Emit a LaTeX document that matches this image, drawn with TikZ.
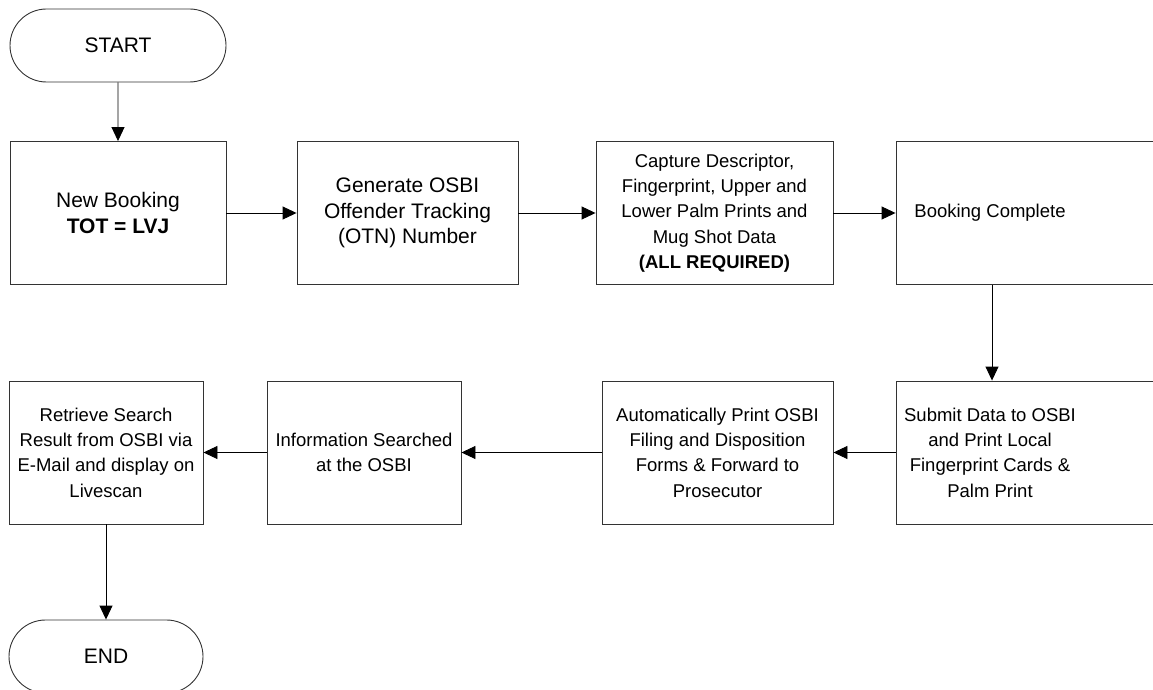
\documentclass[tikz,border=0pt]{standalone}
\usepackage{fontspec}
\setmainfont{Liberation Sans}
\usetikzlibrary{shapes.misc,arrows.meta}

\newcommand{\leftpart}[1]{\parbox{188pt}{\centering #1}\hspace{96pt}}

\begin{document}
\begin{tikzpicture}[x=1pt, y=-1pt, line width=0.9pt,
        >={Triangle[length=14pt, width=13pt]},
        bigtext/.style={font=\fontsize{21pt}{25.8pt}\selectfont},
        terminal/.style={rounded rectangle, draw=black!80, bigtext, minimum width=216pt, minimum height=73pt, inner sep=0pt},
        process/.style={rectangle, draw=black!80, minimum height=143pt, inner sep=0pt, align=center},
        font=\fontsize{18.5pt}{25.3pt}\selectfont]
        \useasboundingbox (0, 0) rectangle (1153, 690);

        \node[terminal] (start) at (118, 45.5) {START};
        \node[process, bigtext, minimum width=216pt] (book) at (118, 213) {New Booking\\\textbf{TOT = LVJ}};
        \node[process, bigtext, minimum width=221pt] (otn) at (407.5, 213) {Generate OSBI\\Offender Tracking\\(OTN) Number};
        \node[process, minimum width=237pt] (capture) at (714.5, 213) {Capture Descriptor,\\Fingerprint, Upper and\\Lower Palm Prints and\\Mug Shot Data\\\textbf{(ALL REQUIRED)}};
        \node[process, minimum width=284pt] (done) at (1038, 213) {\leftpart{Booking Complete}};

        \node[process, minimum width=284pt] (submit) at (1038, 452.5) {\leftpart{Submit Data to OSBI\\and Print Local\\Fingerprint Cards \&\\Palm Print}};
        \node[process, minimum width=231pt] (auto) at (717.5, 452.5) {Automatically Print OSBI\\Filing and Disposition\\Forms \& Forward to\\Prosecutor};
        \node[process, minimum width=194pt] (info) at (364, 452.5) {Information Searched\\at the OSBI};
        \node[process, minimum width=194pt] (retrieve) at (106, 452.5) {Retrieve Search\\Result from OSBI via\\E-Mail and display on\\Livescan};
        \node[terminal, minimum width=194pt] (stop) at (106, 656.5) {END};

        \draw[->] (start) -- (book);
        \draw[->] (book) -- (otn);
        \draw[->] (otn) -- (capture);
        \draw[->] (capture) -- (done.west);
        \draw[->] ([xshift=-46pt]done.south) -- ([xshift=-46pt]submit.north);
        \draw[->] (submit.west) -- (auto);
        \draw[->] (auto) -- (info);
        \draw[->] (info) -- (retrieve);
        \draw[->] (retrieve) -- (stop);
    \end{tikzpicture}
\end{document}
